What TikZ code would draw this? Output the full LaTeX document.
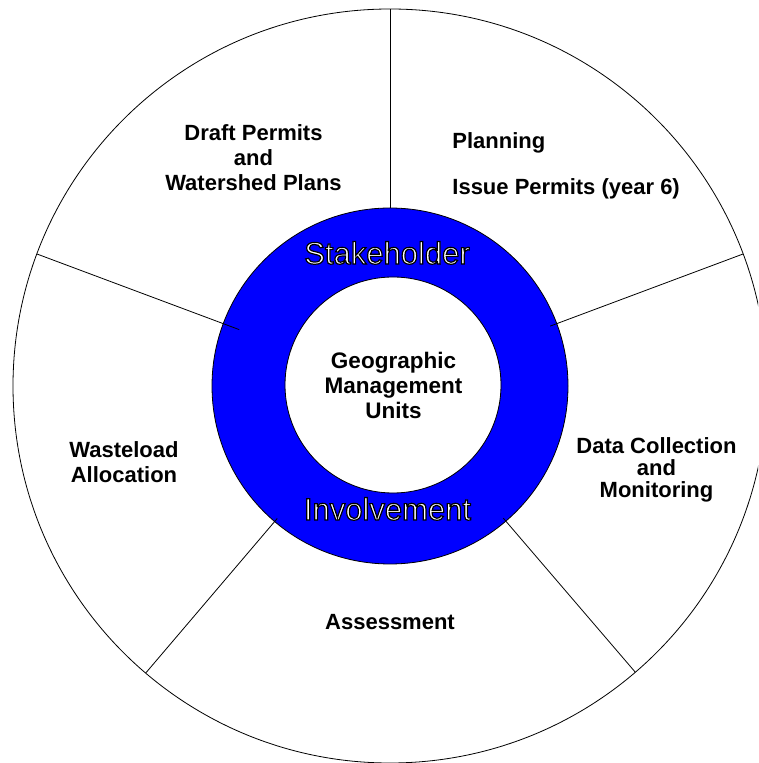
\documentclass[tikz,border=0pt]{standalone}
\usepackage{fontspec}
\setmainfont{Liberation Sans}
\newcommand{\ringtext}[1]{\special{pdf:literal direct 0 0 0 RG 1.2 w 2 Tr}#1\special{pdf:literal direct 0 Tr}}

\begin{document}
\begin{tikzpicture}[x=1pt, y=1pt, line width=0.8pt,
    lbl/.style={font=\bfseries\fontsize{22}{25}\selectfont, align=center, inner sep=0pt},
    ring/.style={font=\fontsize{31}{31}\selectfont, text=white, inner sep=0pt, anchor=base}]
    \useasboundingbox (0,0) rectangle (758,763);
    \clip (0,0) rectangle (758,763);

    % Centre of the wheel {c, ci}
    \coordinate (c)  at (390,377);
    \coordinate (ci) at (393,378);

    % Wheel and ring
    \draw (c) circle (377);
    \fill [blue, even odd rule] (c) circle (178) (ci) circle (108);
    \draw (c) circle (178);
    \draw (ci) circle (108);

    % Spokes
    \foreach \a/\r in {90/178, 20.5/171, 310.6/174, 229.6/174, 159.5/161}
        \draw ([shift={(\a:\r)}]c) -- ([shift={(\a:377)}]c);

    % Labels
    \node [lbl]                                    (draft)   at (253.5,605)   {Draft Permits\\and\\Watershed Plans};
    \node [lbl, align=left, anchor=west]           (plan)    at (452,596.7)   {Planning\\[21pt]Issue Permits (year 6)};
    \node [lbl, font=\bfseries\fontsize{22}{22}\selectfont] (data) at (656.5,293.6) {Data Collection\\and\\Monitoring};
    \node [lbl, anchor=base]                       (assess)  at (390,133)     {Assessment};
    \node [lbl]                                    (waste)   at (124,300.7)   {Wasteload\\Allocation};
    \node [lbl, font=\bfseries\fontsize{22.5}{25}\selectfont] (gmu) at (393.5,378) {Geographic\\Management\\Units};
    \node [ring]                                   (stake)   at (387,499)     {\ringtext{Stakeholder}};
    \node [ring]                                   (involve) at (387.5,243)   {\ringtext{Involvement}};

\end{tikzpicture}
\end{document}
